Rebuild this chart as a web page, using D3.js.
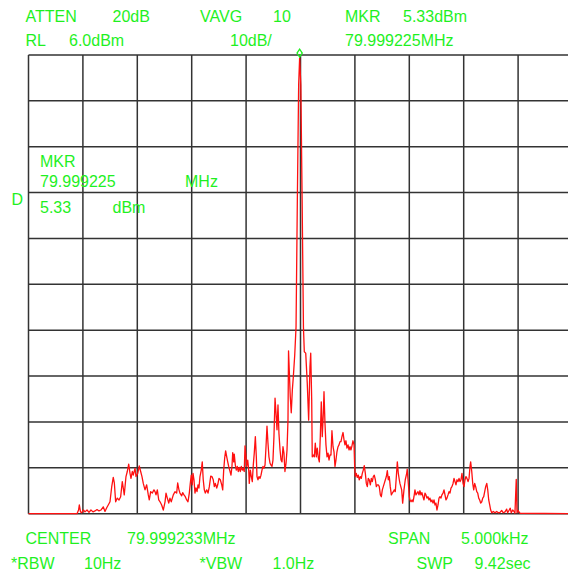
<!DOCTYPE html>
<html>
<head>
<meta charset="utf-8">
<script src="https://cdn.jsdelivr.net/npm/d3@7/dist/d3.min.js"></script>
<style>
  html, body { margin: 0; padding: 0; background: #fff; }
  svg { display: block; }
  text { font-family: "Liberation Sans", Arial, sans-serif; font-size: 16px; fill: #1ff01f; }
</style>
</head>
<body>
<svg id="screen" width="568" height="574"></svg>
<script>
// Analyzer settings
const centerMHz = 79.999233;
const spanHz = 5000;
const refLevelDbm = 6.0;
const dbPerDiv = 10;
const divisions = 10;
const markerOffsetHz = -8;
const markerDbm = 5.33;

// Trace: offset from center frequency (Hz) and level (dBm)
const offsetHz = [
  -2500, -2054, -2040, -2033, -2022, -2013, -1995, -1981, -1962, -1944,
  -1926, -1907, -1889, -1870, -1852, -1834, -1813, -1797, -1781, -1767,
  -1751, -1735, -1721, -1711, -1699, -1684, -1668, -1653, -1638, -1629,
  -1620, -1604, -1592, -1579, -1567, -1558, -1546, -1537, -1521, -1512,
  -1496, -1482, -1469, -1457, -1445, -1429, -1414, -1399, -1390, -1377,
  -1362, -1347, -1337, -1328, -1316, -1303, -1291, -1276, -1261, -1245,
  -1236, -1224, -1211, -1200, -1188, -1169, -1154, -1138, -1129, -1117,
  -1108, -1092, -1083, -1071, -1059, -1046, -1034, -1022, -1013, -1004,
  -995, -988, -979, -970, -961, -951, -942, -933, -924, -912,
  -903, -894, -884, -875, -862, -850, -838, -825, -814, -802,
  -792, -783, -770, -761, -749, -737, -724, -715, -706, -697,
  -688, -678, -669, -660, -651, -639, -630, -623, -614, -609,
  -599, -590, -581, -572, -563, -553, -544, -535, -526, -517,
  -510, -501, -495, -485, -476, -471, -461, -452, -443, -434,
  -425, -415, -406, -400, -391, -381, -372, -363, -354, -345,
  -336, -326, -317, -308, -299, -290, -280, -271, -262, -253,
  -244, -234, -225, -216, -207, -198, -188, -179, -170, -161,
  -152, -143, -133, -124, -115, -110, -94, -85, -75, -66,
  -53, -41, -29, -17, -8, 3, 15, 27, 35, 48,
  62, 75, 87, 94, 103, 108, 118, 127, 136, 145,
  154, 164, 173, 182, 191, 200, 210, 216, 225, 234,
  244, 253, 262, 271, 280, 289, 299, 308, 317, 326,
  335, 345, 354, 363, 372, 381, 391, 400, 409, 418,
  427, 437, 446, 455, 464, 473, 482, 492, 498, 504,
  513, 522, 531, 540, 550, 559, 568, 577, 586, 596,
  605, 614, 623, 632, 642, 651, 660, 669, 678, 688,
  697, 706, 715, 724, 734, 743, 752, 761, 770, 780,
  789, 798, 807, 816, 825, 835, 844, 853, 862, 871,
  881, 890, 899, 908, 914, 930, 939, 951, 963, 976,
  981, 991, 1000, 1006, 1016, 1025, 1034, 1043, 1052, 1061,
  1071, 1080, 1089, 1098, 1107, 1116, 1126, 1135, 1144, 1153,
  1162, 1172, 1181, 1190, 1199, 1208, 1218, 1227, 1236, 1245,
  1254, 1264, 1273, 1282, 1291, 1300, 1310, 1319, 1328, 1337,
  1346, 1356, 1365, 1374, 1383, 1392, 1402, 1411, 1420, 1429,
  1438, 1448, 1457, 1466, 1475, 1484, 1494, 1503, 1512, 1521,
  1530, 1540, 1549, 1558, 1564, 1574, 1583, 1592, 1601, 1610,
  1620, 1629, 1638, 1647, 1656, 1666, 1675, 1684, 1693, 1702,
  1712, 1721, 1730, 1739, 1748, 1758, 1772, 1788, 1803, 1818,
  1834, 1849, 1864, 1880, 1895, 1904, 1916, 1928, 1937, 1950,
  1962, 1971, 1983, 1990, 1999, 2008, 2017, 2500
];
const levelDbm = [
  -94.0, -94.0, -93.2, -92.1, -93.6, -93.8, -93.2, -93.6, -93.2, -93.7,
  -93.2, -93.6, -93.4, -93.1, -93.4, -93.2, -92.5, -93.5, -92.7, -92.1,
  -91.4, -88.1, -86.1, -87.3, -91.4, -90.6, -91.0, -90.3, -87.0, -88.4,
  -89.9, -85.9, -84.8, -83.2, -85.2, -86.3, -84.8, -85.6, -84.1, -85.9,
  -85.2, -83.6, -84.8, -85.9, -87.4, -88.8, -87.7, -89.9, -91.0, -89.2,
  -89.5, -88.8, -89.2, -89.9, -88.8, -91.0, -91.4, -92.1, -93.2, -91.4,
  -89.5, -90.6, -91.7, -90.6, -91.4, -89.9, -89.2, -89.5, -87.3, -88.8,
  -89.5, -90.1, -89.4, -89.9, -90.3, -91.0, -91.4, -89.5, -87.4, -85.6,
  -87.7, -85.2, -86.6, -89.5, -88.4, -89.2, -87.7, -88.4, -85.9, -84.5,
  -82.7, -86.6, -88.8, -89.5, -88.8, -89.5, -88.1, -85.8, -85.9, -86.6,
  -88.1, -87.4, -88.4, -87.7, -86.3, -86.6, -87.7, -88.8, -84.5, -81.9,
  -80.3, -81.6, -82.7, -83.7, -84.5, -85.6, -83.7, -80.7, -82.7, -81.0,
  -83.4, -84.5, -83.7, -84.8, -83.9, -84.8, -83.7, -84.5, -84.1, -84.8,
  -79.2, -81.6, -83.7, -82.3, -84.5, -87.4, -84.5, -85.9, -87.0, -83.4,
  -80.8, -77.2, -81.6, -85.9, -86.6, -85.9, -86.3, -85.6, -84.5, -83.7,
  -84.1, -83.4, -79.4, -74.9, -78.6, -81.6, -83.0, -83.4, -83.7, -82.3,
  -77.2, -68.8, -72.1, -75.7, -70.3, -76.5, -80.1, -82.3, -82.7, -79.4,
  -80.8, -84.8, -83.0, -80.1, -73.6, -58.5, -68.5, -72.0, -67.0, -64.2,
  -59.4, -53.3, -25.6, -0.5, 5.33, -0.5, -25.6, -53.3, -58.7, -59.0,
  -65.5, -73.6, -61.9, -59.0, -69.2, -81.6, -81.2, -81.6, -78.6, -81.6,
  -79.7, -81.8, -82.7, -77.2, -69.6, -77.2, -72.0, -67.4, -74.3, -79.0,
  -81.6, -80.8, -82.3, -81.2, -81.2, -75.9, -79.4, -80.5, -83.7, -82.3,
  -80.5, -79.4, -79.0, -78.3, -78.3, -77.2, -76.3, -77.9, -79.0, -78.1,
  -79.7, -79.0, -80.1, -79.4, -80.1, -79.2, -78.1, -79.0, -83.7, -85.9,
  -85.2, -86.1, -85.6, -86.6, -85.9, -86.3, -85.2, -84.5, -83.5, -85.2,
  -87.4, -88.1, -86.3, -86.6, -87.7, -86.3, -87.0, -85.9, -85.6, -86.6,
  -88.1, -87.7, -87.7, -88.1, -89.9, -90.3, -88.8, -88.1, -87.4, -86.6,
  -85.9, -84.6, -86.6, -85.9, -88.1, -89.9, -89.5, -89.2, -88.8, -89.2,
  -85.9, -82.7, -85.2, -86.6, -87.4, -88.8, -91.7, -88.8, -86.6, -85.2,
  -84.3, -87.4, -90.3, -91.0, -91.4, -91.0, -91.4, -90.3, -88.8, -89.9,
  -89.5, -89.2, -89.9, -89.0, -89.9, -89.4, -90.3, -91.0, -89.5, -89.9,
  -90.6, -90.3, -91.0, -90.6, -91.4, -91.0, -91.7, -91.0, -92.1, -91.7,
  -93.2, -92.1, -90.6, -90.3, -90.6, -89.9, -89.5, -88.8, -89.9, -91.0,
  -90.6, -89.9, -89.2, -89.5, -88.4, -88.1, -87.4, -86.3, -87.0, -87.7,
  -86.6, -87.0, -86.3, -87.0, -86.6, -85.2, -87.4, -88.1, -86.6, -85.9,
  -86.3, -87.0, -86.3, -83.7, -82.7, -84.8, -87.4, -88.8, -87.4, -88.1,
  -89.2, -89.5, -90.6, -91.0, -91.7, -91.4, -90.6, -90.3, -89.2, -88.1,
  -87.4, -88.8, -91.0, -92.1, -93.2, -93.8, -93.5, -93.8, -93.5, -93.8,
  -93.7, -93.3, -93.8, -93.6, -93.0, -93.8, -93.3, -92.8, -93.8, -93.2,
  -93.5, -93.9, -86.5, -93.8, -93.3, -93.6, -93.9, -94.0
];

// Annotation text
const headerRow1 = ["ATTEN", "20dB", "VAVG", "10", "MKR", "5.33dBm"];
const headerRow2 = ["RL", "6.0dBm", "10dB/", "79.999225MHz"];
const footerRow1 = ["CENTER", "79.999233MHz", "SPAN", "5.000kHz"];
const footerRow2 = ["*RBW", "10Hz", "*VBW", "1.0Hz", "SWP", "9.42sec"];
const markerBlock = ["MKR", "79.999225", "MHz", "D", "5.33", "dBm"];

const svg = d3.select("#screen");

// Graticule geometry
const gridLeft = 28.5, gridTop = 55, divW = 54.4, divH = 45.87;
const x = d3.scaleLinear()
  .domain([-spanHz / 2, spanHz / 2])
  .range([gridLeft, gridLeft + divisions * divW]);
const y = d3.scaleLinear()
  .domain([refLevelDbm - divisions * dbPerDiv, refLevelDbm])
  .range([gridTop + divisions * divH, gridTop]);

const xTicks = d3.range(0, divisions + 1).map(i => -spanHz / 2 + i * spanHz / divisions);
const yTicks = d3.range(0, divisions + 1).map(i => refLevelDbm - i * dbPerDiv);

const grid = svg.append("g").attr("stroke", "#333").attr("stroke-width", 1.5);
grid.selectAll("line.v").data(xTicks).join("line")
  .attr("class", "v")
  .attr("x1", d => x(d)).attr("x2", d => x(d))
  .attr("y1", y.range()[0]).attr("y2", y.range()[1]);
grid.selectAll("line.h").data(yTicks).join("line")
  .attr("class", "h")
  .attr("x1", x.range()[0]).attr("x2", x.range()[1])
  .attr("y1", d => y(d)).attr("y2", d => y(d));

// Trace
const floorDbm = y.domain()[0];
const trace = offsetHz.map((f, i) => [f, Math.max(floorDbm, levelDbm[i])]);
svg.append("path")
  .datum(trace)
  .attr("fill", "none")
  .attr("stroke", "#ff1010")
  .attr("stroke-width", 1.3)
  .attr("stroke-linejoin", "round")
  .attr("d", d3.line().x(d => x(d[0])).y(d => y(d[1])));

// Marker diamond sitting on the peak
const mx = x(markerOffsetHz), my = y(markerDbm);
svg.append("path")
  .attr("d", `M${mx},${my - 1} L${mx + 2.6},${my - 5} L${mx},${my - 9} L${mx - 2.6},${my - 5} Z`)
  .attr("fill", "none")
  .attr("stroke", "#1ff01f")
  .attr("stroke-width", 1.3);

// Text annotations
function putRow(labels, xs, baseline) {
  svg.append("g").selectAll("text").data(labels).join("text")
    .attr("x", (d, i) => xs[i])
    .attr("y", baseline)
    .text(d => d);
}
putRow(headerRow1, [25.5, 112.5, 200, 273, 345, 403], 22);
putRow(headerRow2, [25.5, 69, 230, 345], 45.5);
putRow(footerRow1, [25.5, 127, 388, 461], 544);
putRow(footerRow2, [11, 84, 199.5, 272.5, 416.5, 474.5], 569);

const mb = svg.append("g");
const mbPos = [[40, 166.5], [40, 186.5], [185, 186.5], [11.5, 205], [40, 212.5], [112.5, 212.5]];
mb.selectAll("text").data(markerBlock).join("text")
  .attr("x", (d, i) => mbPos[i][0])
  .attr("y", (d, i) => mbPos[i][1])
  .text(d => d);
</script>
</body>
</html>
